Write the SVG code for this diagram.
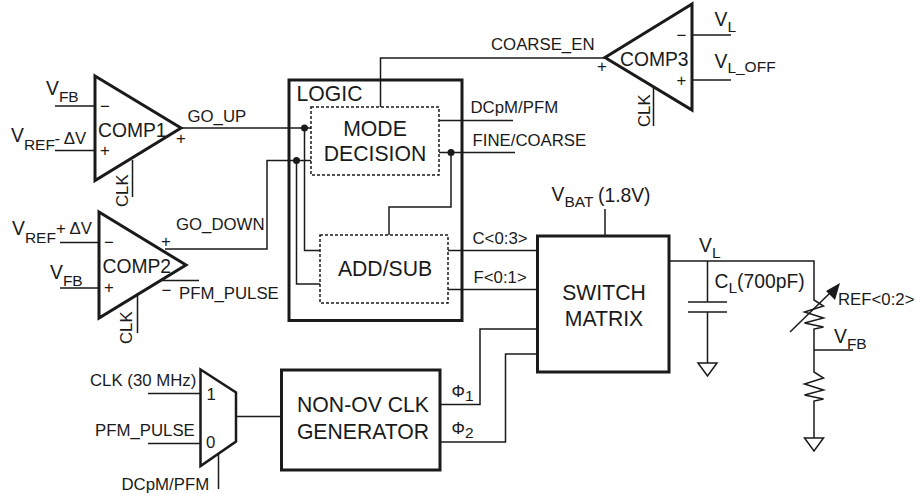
<svg xmlns="http://www.w3.org/2000/svg" width="915" height="495" viewBox="0 0 915 495">
<style>
text{font-family:"Liberation Sans",Arial,sans-serif;fill:#1a1a1a;font-size:16.800px}
.w{fill:none;stroke:#1a1a1a;stroke-width:1.500}
.t{fill:none;stroke:#1a1a1a;stroke-width:3;stroke-linejoin:miter}
.x{fill:none;stroke:#1a1a1a;stroke-width:2.500;stroke-linejoin:miter}
.d{fill:none;stroke:#1a1a1a;stroke-width:1.500;stroke-dasharray:3 2}
.n{font-size:21.200px}
.m{font-size:19.300px}
.s{font-size:15.500px}
.c{text-anchor:middle}
</style>
<defs>
<path id="gnd" class="w" d="M-9.500 0H9.500L0 13Z"/>
</defs>
<g id="connectors">
<path class="w" d="M55 106H95M55 150.500H95M132.500 160V197"/>
<path class="w" d="M181 128H311"/>
<path class="w" d="M60 242.500H99M60 288H99M137.500 293V333M162 280.500H199"/>
<path class="w" d="M165 249H267V160.500H311"/>
<path class="w" d="M304.500 128V250.500H320M296.500 160.500V284H320"/>
<path class="w" d="M380.500 107V58H605"/>
<path class="w" d="M692 35H731M692 80H731M653.500 88V126"/>
<path class="w" d="M439 120.500H513M439 152.500H515M451 152.500V207H389V235"/>
<path class="w" d="M448 250.500H537M448 289.500H537"/>
<path class="w" d="M605 209V236"/>
<path class="w" d="M669 261H814V300L823.500 306 804.500 312 823.500 318 804.500 323 823.500 327 814 329V372L823.500 378 804.500 384 823.500 390 804.500 395 823.500 399 814 401V438"/>
<path class="w" d="M814 350H853"/>
<path class="w" d="M707.500 261V302M688 302H727M688 312H727M707.500 312V363"/>
<path class="w" d="M790 332L831 292"/>
<path d="M840 283L835 300 826 291Z" fill="#1a1a1a"/>
<use href="#gnd" x="707.500" y="363"/>
<use href="#gnd" x="814" y="438"/>
<path class="w" d="M148 393.500H200M148 443.500H200M218.500 453V489M236 416.500H282"/>
<path class="w" d="M440 404.500H480V329H537M440 442H505.500V354H537"/>
<circle cx="304.500" cy="128" r="3.500" fill="#1a1a1a"/>
<circle cx="296.500" cy="160.500" r="3.500" fill="#1a1a1a"/>
<circle cx="451" cy="152.500" r="3.500" fill="#1a1a1a"/>
</g>
<g id="comp1"><path class="t" d="M95 76L181 128 95 180.500Z"/><text x="98" y="137" class="m">COMP1</text><text x="105" y="111.500" class="c">−</text><text x="105" y="156" class="c">+</text><text x="181" y="143.500" class="c">+</text></g>
<g id="comp2"><path class="t" d="M99 212L186 265 99 318Z"/><text x="102.500" y="273" class="m">COMP2</text><text x="109" y="248" class="c">−</text><text x="109" y="293" class="c">+</text><text x="166" y="247" class="c">+</text><text x="166.500" y="295.500" class="c">−</text></g>
<g id="comp3"><path class="t" d="M692 4L605 57.500 692 110Z"/><text x="620" y="65.500" class="m">COMP3</text><text x="681.500" y="40.500" class="c">−</text><text x="681.500" y="85.500" class="c">+</text><text x="602" y="72" class="c">+</text></g>
<g id="logic"><rect class="t" x="289" y="80" width="173" height="240.500"/><text x="296.500" y="101" class="n">LOGIC</text></g>
<g id="mode"><rect class="d" x="311" y="107" width="128" height="68"/><text x="375" y="136" class="n c">MODE</text><text x="375" y="160.500" class="n c">DECISION</text></g>
<g id="addsub"><rect class="d" x="320" y="235" width="128" height="68"/><text x="385" y="276" class="n c">ADD/SUB</text></g>
<g id="switch"><rect class="t" x="537.500" y="236" width="131.500" height="136"/><text x="604" y="300" class="n c">SWITCH</text><text x="604" y="325.500" class="n c">MATRIX</text></g>
<g id="clkgen"><rect class="t" x="281.500" y="370" width="158.500" height="100"/><text x="363" y="411.500" class="n c">NON-OV CLK</text><text x="363" y="439" class="n c">GENERATOR</text></g>
<g id="mux"><path class="x" d="M200.500 369.500L236 392.500V441.500L200.500 466Z"/><text x="206.500" y="399.500">1</text><text x="206" y="447.500">0</text></g>
<g id="labels">
<text x="46" y="95" class="m">V<tspan dy="6.500" class="s">FB</tspan></text>
<text x="11" y="142" class="m">V<tspan dy="8" class="s">REF</tspan></text>
<text x="54.500" y="144">- ΔV</text>
<text x="187.500" y="121.500">GO_UP</text>
<text x="176" y="230">GO_DOWN</text>
<text x="12" y="235" class="m">V<tspan dy="8" class="s">REF</tspan></text>
<text x="56" y="234">+ ΔV</text>
<text x="50" y="279" class="m">V<tspan dy="6.500" class="s">FB</tspan></text>
<text x="179" y="299">PFM_PULSE</text>
<text transform="translate(127.500 207) rotate(-90)">CLK</text>
<text transform="translate(132 344) rotate(-90)">CLK</text>
<text transform="translate(649.500 127) rotate(-90)">CLK</text>
<text x="491" y="50">COARSE_EN</text>
<text x="714.500" y="26" class="m">V<tspan dy="6" class="s">L</tspan></text>
<text x="714.500" y="67.500" class="m">V<tspan dy="5" class="s">L</tspan><tspan dy="-1" class="s" font-size="17">_OFF</tspan></text>
<text x="470.500" y="113">DCpM/PFM</text>
<text x="472.500" y="146">FINE/COARSE</text>
<text x="472.500" y="244">C&lt;0:3&gt;</text>
<text x="473.500" y="282.500">F&lt;0:1&gt;</text>
<text x="551.500" y="201" class="m">V<tspan dy="6" class="s">BAT</tspan></text>
<text x="598" y="201.500" class="m">(1.8V)</text>
<text x="699" y="252" class="m">V<tspan dy="6" class="s">L</tspan></text>
<text x="714.500" y="288" class="m">C<tspan dy="5" class="s">L</tspan><tspan dy="-5">(700pF)</tspan></text>
<text x="838" y="305">REF&lt;0:2&gt;</text>
<text x="834" y="343" class="m">V<tspan dy="6" class="s">FB</tspan></text>
<text x="90" y="386">CLK (30 MHz)</text>
<text x="95" y="435.500">PFM_PULSE</text>
<text x="121.500" y="490">DCpM/PFM</text>
<text x="451.500" y="397">Φ<tspan dy="4" class="s">1</tspan></text>
<text x="451.500" y="434">Φ<tspan dy="4" class="s">2</tspan></text>
</g>
</svg>
